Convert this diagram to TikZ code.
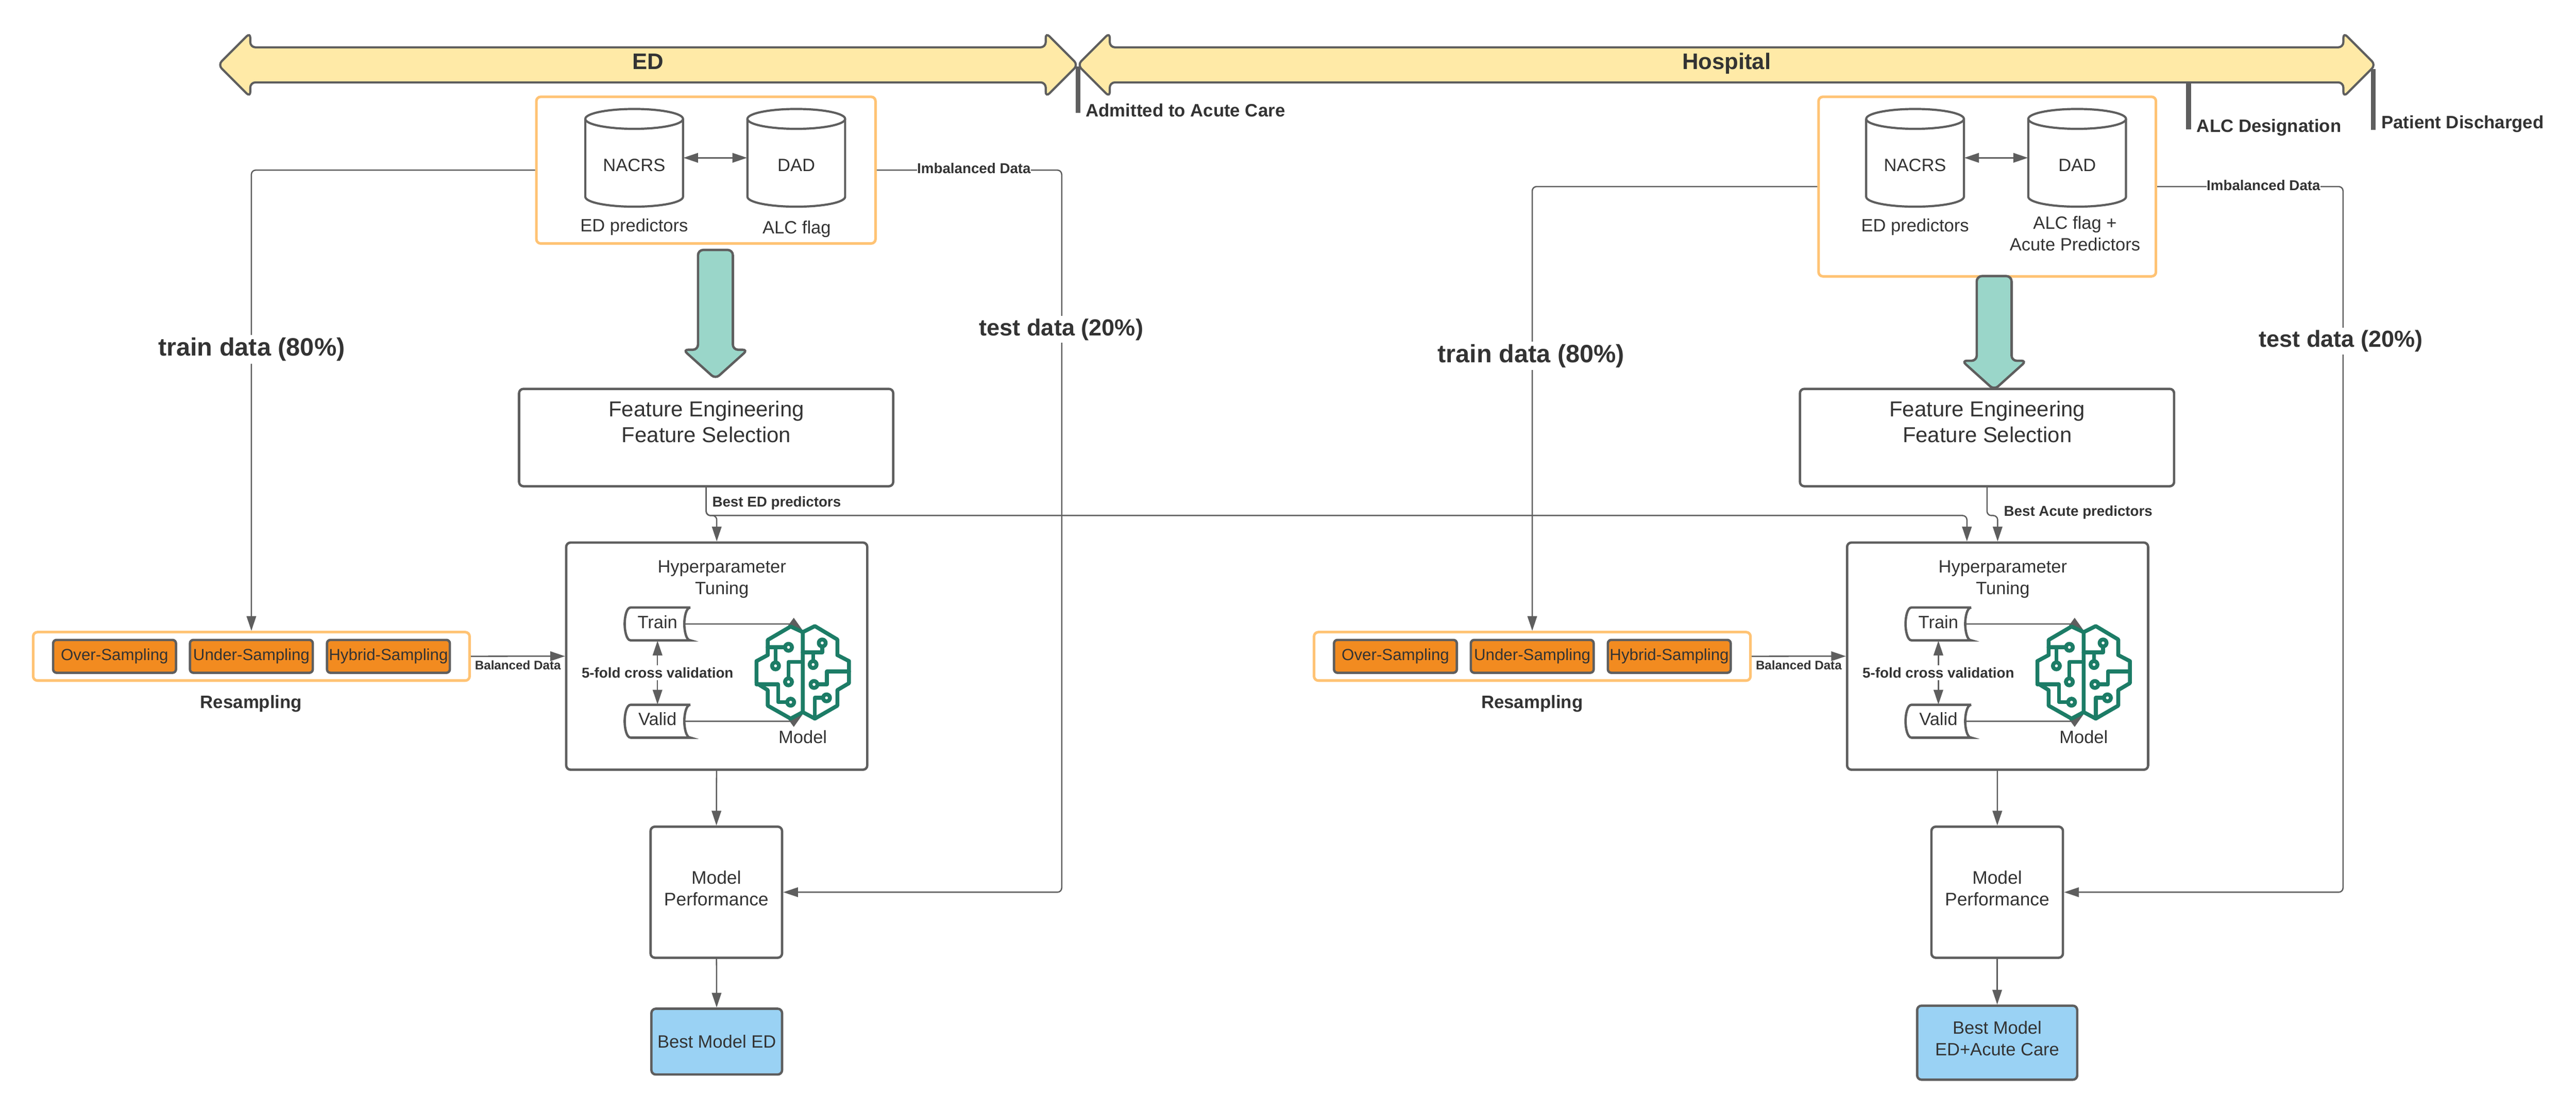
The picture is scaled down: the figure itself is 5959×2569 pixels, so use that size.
\documentclass[tikz,border=0pt]{standalone}
\usepackage{fontspec}
\setmainfont{Liberation Sans}
\usetikzlibrary{arrows.meta,shapes.arrows}
\definecolor{linegray}{HTML}{5E5E5E}
\definecolor{textgray}{HTML}{333333}
\definecolor{bandyellow}{HTML}{FFEAA7}
\definecolor{flowteal}{HTML}{9AD6C9}
\definecolor{frameorange}{HTML}{FFC374}
\definecolor{sampleorange}{HTML}{F28B20}
\definecolor{bestblue}{HTML}{9AD2F4}
\definecolor{braingreen}{HTML}{1C7C66}
\tikzset{
  txt/.style={text=textgray, font=\fontsize{11.7}{14.2}\selectfont, align=center, inner sep=0pt},
  boldtxt/.style={txt, font=\fontsize{11.8}{14.2}\bfseries\selectfont},
  smalltxt/.style={txt, font=\fontsize{9.4}{11}\bfseries\selectfont},
  bigtxt/.style={txt, font=\fontsize{16.5}{20}\bfseries\selectfont, fill=white, inner sep=0.06cm},
  conn/.style={draw=linegray, line width=0.03cm, rounded corners=0.1cm, -{Triangle[length=3.4mm,width=2.2mm]}},
  twoway/.style={draw=linegray, line width=0.035cm, {Triangle[length=3.4mm,width=2.2mm]}-{Triangle[length=3.4mm,width=2.2mm]}},
  whitebox/.style={draw=linegray, line width=0.055cm, rounded corners=0.1cm, inner sep=0pt},
  frame/.style={draw=frameorange, line width=0.06cm, rounded corners=0.1cm, inner sep=0pt},
  samplebox/.style={txt, draw=linegray, fill=sampleorange, line width=0.055cm, rounded corners=0.08cm, font=\fontsize{10.6}{13}\selectfont, minimum width=2.84cm, minimum height=0.76cm},
  bestbox/.style={txt, draw=linegray, fill=bestblue, line width=0.055cm, rounded corners=0.1cm},
  dbase/.style={txt, minimum width=2.26cm, minimum height=2.26cm, text height=0.62cm, text depth=0cm},
  band/.style={boldtxt, double arrow, draw=linegray, fill=bandyellow, line width=0.05cm, rounded corners=0.12cm, minimum width=1.44cm, double arrow head extend=0.34cm, double arrow tip angle=90, text height=0.365cm, text depth=0.16cm, inner ysep=0.1175cm, font=\fontsize{14.8}{17}\bfseries\selectfont},
  flow/.style={single arrow, shape border rotate=270, draw=linegray, fill=flowteal, line width=0.055cm, rounded corners=0.12cm, inner sep=0.375cm, minimum width=1.44cm, single arrow head extend=0.345cm, single arrow tip angle=96},
  foldbox/.style={txt, minimum width=1.24cm, minimum height=0.76cm, text depth=0.1cm},
  bar/.style={fill=linegray, inner sep=0pt, minimum width=0.115cm},
  % database drum
  drumpic/.pic={
    \draw[draw=linegray, line width=0.05cm] (0,-90) ellipse [x radius=113, y radius=23];
    \draw[draw=linegray, line width=0.05cm] (-113,-90) -- (-113,90) .. controls (-113,103) and (-62,113) .. (0,113) .. controls (62,113) and (113,103) .. (113,90) -- (113,-90);
  },
  % data folds Train and Valid
  foldpic/.pic={
    \draw[draw=linegray, line width=0.055cm] (76,-38) -- (-62,-38) .. controls (-72,-38) and (-76,-15) .. (-76,0) .. controls (-76,15) and (-72,38) .. (-62,38) -- (76,38) .. controls (66,38) and (62,15) .. (62,0) .. controls (62,-15) and (66,-38) .. (76,-38);
  },
  brainpic/.pic={
    \begin{scope}[draw=braingreen, line width=0.09cm, line join=round, line cap=round]
      \draw (0,-93) -- (-28,-106) -- (-81,-75) -- (-81,-40) -- (-107,-26) -- (-107,25) -- (-81,41) -- (-81,77) -- (-28,107) -- (0,92);
      \draw (0,-93) -- (28,-107) -- (80,-76) -- (80,-40) -- (107,-26) -- (107,25) -- (80,41) -- (80,77) -- (28,107) -- (0,92) -- cycle;
      \draw (-81,-58) -- (-43,-58);
      \draw (-63,-58) -- (-63,-25);
      \draw (0,-24) -- (-33,-24) -- (-33,12);
      \draw (-107,28) -- (-57,28) -- (-57,69) -- (-40,69);
      \draw (0,-46) -- (45,-46) -- (45,-57);
      \draw (24,-46) -- (24,-28);
      \draw (107,-2) -- (56,-2) -- (56,28) -- (37,28);
      \draw (28,107) -- (28,59) -- (45,59);
      \foreach \cx/\cy in {-33/-58,-63/-15,-33/22,-28/69,45/-68,24/-18,26/28,55/59}
        \draw (\cx,\cy) circle[radius=8];
    \end{scope}
  }
}
\begin{document}
\begin{tikzpicture}[x=0.01cm,y=-0.01cm]
  \useasboundingbox (0,0) rectangle (5959,2569);
  \fill[white] (0,0) rectangle (5959,2569);

  % time line
  \node[bar, minimum height=1.07cm] (admitbar) at (2494,207) {};
  \node[bar, minimum height=1.09cm] (alcbar) at (5063,245) {};
  \node[bar, minimum height=1.40cm] (dischargebar) at (5490,230) {};
  \node[band, minimum height=19.88cm] (edband) at (1499,150) {ED};
  \node[band, minimum height=30.01cm] (hospitalband) at (3994,150) {Hospital};
  \node[boldtxt, anchor=west] (admitlabel) at (2511,255) {Admitted to Acute Care};
  \node[boldtxt, anchor=west] (alclabel) at (5081,295) {ALC Designation};
  \node[boldtxt, anchor=west] (dischargelabel) at (5508,287) {Patient Discharged};

  % data sources
  \node[frame, minimum width=7.84cm, minimum height=3.39cm] (source-ed) at (1633,393.5) {};
  \node[frame, minimum width=7.80cm, minimum height=4.15cm] (source-acute) at (4597,431.5) {};
  \node[flow, minimum height=2.98cm] (flow-ed) at (1655,709) {};
  \node[flow, minimum height=2.63cm] (flow-acute) at (4613,752) {};
  \node[txt] (edflag) at (1843,530) {ALC flag};
  \node[txt] (acuteflag) at (4800,540) {ALC flag +\\Acute Predictors};

  % same blocks for both stays
  \foreach \dx/\tag in {0/ed,2963/acute}{
    \begin{scope}[xshift={\dx*0.01cm}]
      \node[dbase] (nacrs-\tag) at (1467,365) {NACRS};
      \node[dbase] (dad-\tag) at (1842,365) {DAD};
      \pic at (nacrs-\tag.center) {drumpic};
      \pic at (dad-\tag.center) {drumpic};
      \node[txt] (predictors-\tag) at (1467,525) {ED predictors};
      \draw[twoway] (nacrs-\tag.east) -- (dad-\tag.west);

      \node[whitebox, minimum width=8.65cm, minimum height=2.25cm] (feature-\tag) at (1633.5,1012) {};
      \node[txt, font=\fontsize{14.2}{17}\selectfont] (featuretext-\tag) at (1634,976) {Feature Engineering\\Feature Selection};

      \node[whitebox, minimum width=6.96cm, minimum height=5.25cm] (hyper-\tag) at (1658,1517.5) {};
      \node[txt] (hypertext-\tag) at (1670,1340) {Hyperparameter\\Tuning};
      \node[foldbox] (train-\tag) at (1521,1443) {Train};
      \node[foldbox] (valid-\tag) at (1521,1668) {Valid};
      \pic at (train-\tag.center) {foldpic};
      \pic at (valid-\tag.center) {foldpic};
      \draw[twoway, line width=0.03cm] (train-\tag) -- node[smalltxt, fill=white, inner ysep=0.05cm] (fold-\tag) {5-fold cross validation} (valid-\tag);
      \coordinate (braintop-\tag) at (1857,1458);
      \coordinate (brainbottom-\tag) at (1857,1652);
      \draw[conn] (train-\tag.east) -- (1825,1443) to[out=0,in=144] (braintop-\tag);
      \draw[conn] (valid-\tag.east) -- (1825,1668) to[out=0,in=216] (brainbottom-\tag);
      \pic at (1857,1555) {brainpic};
      \node[txt] (modeltext-\tag) at (1857,1704) {Model};

      \node[frame, minimum width=10.09cm, minimum height=1.12cm] (resample-\tag) at (581.5,1518) {};
      \node[samplebox] (over-\tag) at (265,1518) {Over-Sampling};
      \node[samplebox] (under-\tag) at (581.5,1518) {Under-Sampling};
      \node[samplebox] (hybrid-\tag) at (898.5,1518) {Hybrid-Sampling};
      \node[boldtxt] (resampletext-\tag) at (581,1628) {Resampling};
      \draw[conn] (resample-\tag) -- (hyper-\tag);
      \node[txt, font=\fontsize{8.2}{10}\bfseries\selectfont] (balanced-\tag) at (1198,1539) {Balanced Data};

      \node[whitebox, minimum width=3.04cm, minimum height=3.03cm] (perf-\tag) at (1657,2063.5) {};
      \node[txt, font=\fontsize{12}{14.2}\selectfont] (perftext-\tag) at (1657,2054) {Model\\Performance};
      \draw[conn] (hyper-\tag) -- (perf-\tag);
    \end{scope}
  }

  % best models
  \node[bestbox, minimum width=3.02cm, minimum height=1.52cm] (best-ed) at (1658,2409) {Best Model ED};
  \node[bestbox, minimum width=3.70cm, minimum height=1.71cm] (best-acute) at (4620,2411.5) {};
  \node[txt] (besttext-acute) at (4620,2402) {Best Model\\ED+Acute Care};
  \draw[conn] (perf-ed) -- (best-ed);
  \draw[conn] (perf-acute) -- (best-acute);

  % train and test splits
  \draw[conn] (source-ed.west) -| (resample-ed.north);
  \draw[conn] (source-acute.west) -| (resample-acute.north);
  \draw[conn] (source-ed.east) -| (2456,1200) |- (perf-ed.east);
  \draw[conn] (source-acute.east) -| (5420,1200) |- (perf-acute.east);
  \node[smalltxt, fill=white] (imbalanced-ed) at (2253,389) {Imbalanced Data};
  \node[smalltxt, fill=white] (imbalanced-acute) at (5236,428) {Imbalanced Data};
  \node[bigtxt] (traindata-ed) at (582,808) {train data (80\%)};
  \node[bigtxt, font=\fontsize{15.3}{20}\bfseries\selectfont] (testdata-ed) at (2455,762) {test data (20\%)};
  \node[bigtxt] (traindata-acute) at (3542,823) {train data (80\%)};
  \node[bigtxt, font=\fontsize{15.3}{20}\bfseries\selectfont] (testdata-acute) at (5415,789) {test data (20\%)};

  % best predictors
  \draw[conn] (feature-ed.south) -- ++(0,65) -| (hyper-ed.north);
  \draw[conn] (feature-ed.south) -- ++(0,65) -| ([xshift=-0.71cm]hyper-acute.north);
  \draw[conn] (feature-acute.south) -- ++(0,65) -| (hyper-acute.north);
  \node[smalltxt, anchor=west] (bested) at (1647,1163) {Best ED predictors};
  \node[smalltxt, anchor=west] (bestacute) at (4635,1185) {Best Acute predictors};
\end{tikzpicture}
\end{document}
